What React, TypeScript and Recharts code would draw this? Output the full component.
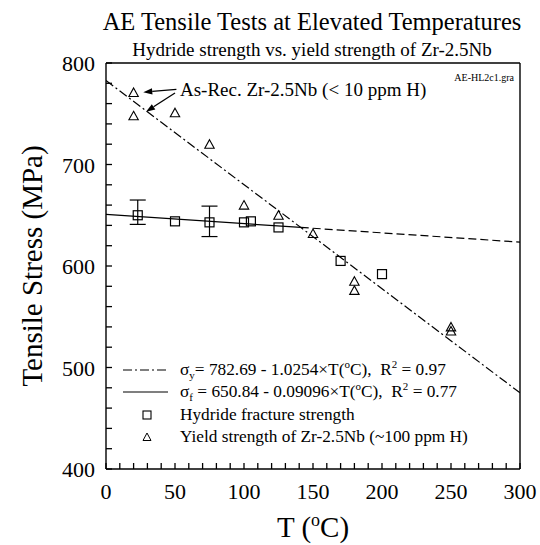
import React from 'react';
import { ComposedChart, Line, Scatter, XAxis, YAxis, ErrorBar, ReferenceLine, Legend } from 'recharts';

const FONT = "'Liberation Serif', 'Times New Roman', serif";

// Axis ticks
const xTicks = [0, 10, 20, 30, 40, 50, 60, 70, 80, 90, 100, 110, 120, 130, 140, 150, 160, 170, 180, 190, 200, 210, 220, 230, 240, 250, 260, 270, 280, 290, 300];
const xMajor = [0, 50, 100, 150, 200, 250, 300];
const yTicks = [400, 420, 440, 460, 480, 500, 520, 540, 560, 580, 600, 620, 640, 660, 680, 700, 720, 740, 760, 780, 800];
const yMajor = [400, 500, 600, 700, 800];

// Hydride fracture strength (squares), err = [lower, upper]
const fractureStrength = [
  { x: 23, y: 650, err: [9, 15] },
  { x: 50, y: 644 },
  { x: 75, y: 643, err: [14, 16] },
  { x: 100, y: 643 },
  { x: 105, y: 644 },
  { x: 125, y: 638 },
  { x: 170, y: 605 },
  { x: 200, y: 592 },
];

// Yield strength of Zr-2.5Nb (triangles)
const yieldStrength = [
  { x: 20, y: 771 },
  { x: 20, y: 748 },
  { x: 50, y: 751 },
  { x: 75, y: 720 },
  { x: 100, y: 660 },
  { x: 125, y: 650 },
  { x: 150, y: 632 },
  { x: 180, y: 585 },
  { x: 180, y: 576 },
  { x: 250, y: 540 },
  { x: 250, y: 536 },
];

// Fit line end points
const yieldFit = [{ x: 0, y: 782.69 }, { x: 300, y: 475.07 }];
const fractureFitSolid = [{ x: 0, y: 650.84 }, { x: 141.1, y: 638.0 }];
const fractureFitDashed = [{ x: 141.1, y: 638.0 }, { x: 300, y: 623.55 }];

// Annotation arrows (from text to As-Rec. points)
const arrows = [
  [{ x: 51, y: 774 }, { x: 27, y: 771.3 }],
  [{ x: 50, y: 770.5 }, { x: 29, y: 752 }],
];

const TICK_SIZE = -6; // negative = ticks point into the plot
const TICK_W = 1.3;

// Tick labels (the axis draws the tick marks itself)
const BottomLabel = (p: any) => {
  const v = p.payload && p.payload.value;
  if (!xMajor.includes(v)) return <g />;
  return (
    <text x={Number(p.x)} y={Number(p.y) + 36} textAnchor="middle" fontFamily={FONT} fontSize={22} fill="#000" stroke="none">
      {v}
    </text>
  );
};
const LeftLabel = (p: any) => {
  const v = p.payload && p.payload.value;
  if (!yMajor.includes(v)) return <g />;
  return (
    <text x={Number(p.x) - 17} y={Number(p.y) + 8} textAnchor="end" fontFamily={FONT} fontSize={22} fill="#000" stroke="none">
      {v}
    </text>
  );
};

const SquareShape = (p: any) => (
  <rect x={p.cx - 4.5} y={p.cy - 4.5} width={9} height={9} fill="none" stroke="#000" strokeWidth={1.2} />
);
const TriangleShape = (p: any) => (
  <path
    d={`M${p.cx},${p.cy - 4.5} L${p.cx + 4.7},${p.cy + 4} L${p.cx - 4.7},${p.cy + 4} Z`}
    fill="none"
    stroke="#000"
    strokeWidth={1.1}
  />
);
const NoShape = () => <g />;

const ArrowShape = (p: any) => {
  const { x1, y1, x2, y2 } = p;
  const ang = Math.atan2(y2 - y1, x2 - x1);
  const L = 9;
  const W = 3.2;
  const bx = x2 - L * Math.cos(ang);
  const by = y2 - L * Math.sin(ang);
  const px = -Math.sin(ang) * W;
  const py = Math.cos(ang) * W;
  return (
    <g>
      <line x1={x1} y1={y1} x2={bx} y2={by} stroke="#000" strokeWidth={1.3} />
      <path d={`M${x2},${y2} L${bx + px},${by + py} L${bx - px},${by - py} Z`} fill="#000" />
    </g>
  );
};

const sup = { fontSize: 11, verticalAlign: 'super', lineHeight: 0 } as React.CSSProperties;
const sub = { fontSize: 11, verticalAlign: 'sub', lineHeight: 0 } as React.CSSProperties;

const LegendContent = () => {
  const row: React.CSSProperties = { display: 'flex', alignItems: 'center', height: 22.3 };
  const sym = (content: React.ReactNode) => (
    <svg width={46} height={22} style={{ display: 'block', flex: 'none' }}>
      {content}
    </svg>
  );
  const txt: React.CSSProperties = { marginLeft: 11, whiteSpace: 'pre', fontFamily: FONT, fontSize: 17.3, color: '#000', lineHeight: '22px' };
  return (
    <div>
      <div style={row}>
        {sym(<line x1={0} x2={45} y1={11} y2={11} stroke="#000" strokeWidth={1.2} strokeDasharray="9 3 2 3" />)}
        <span style={txt}>
          σ<span style={sub}>y</span>= 782.69 - 1.0254×T(<span style={sup}>o</span>C),  R<span style={sup}>2</span> = 0.97
        </span>
      </div>
      <div style={row}>
        {sym(<line x1={0} x2={45} y1={11} y2={11} stroke="#000" strokeWidth={1.2} />)}
        <span style={txt}>
          σ<span style={sub}>f</span> = 650.84 - 0.09096×T(<span style={sup}>o</span>C),  R<span style={sup}>2</span> = 0.77
        </span>
      </div>
      <div style={row}>
        {sym(<rect x={20} y={7} width={8} height={8} fill="none" stroke="#000" strokeWidth={1.1} />)}
        <span style={txt}>Hydride fracture strength</span>
      </div>
      <div style={row}>
        {sym(<path d="M24,7 L28,14.5 L20,14.5 Z" fill="none" stroke="#000" strokeWidth={1} />)}
        <span style={txt}>Yield strength of Zr-2.5Nb (~100 ppm H)</span>
      </div>
    </div>
  );
};

const axisLine = { stroke: '#000', strokeWidth: 1.4 };
const tickLine = { stroke: '#000', strokeWidth: TICK_W };

export default function App() {
  return (
    <div style={{ position: 'absolute', left: 0, top: 0, width: 540, height: 545, background: '#fff' }}>
      <ComposedChart width={540} height={545} margin={{ top: 53, right: 10, bottom: 36, left: 46 }}>
        <XAxis
          xAxisId={0}
          dataKey="x"
          type="number"
          domain={[0, 300]}
          allowDataOverflow
          ticks={xTicks}
          interval={0}
          tickSize={TICK_SIZE}
          tickMargin={0}
          height={40}
          tick={BottomLabel}
          tickLine={tickLine}
          axisLine={axisLine}
        />
        <XAxis
          xAxisId="top"
          dataKey="x"
          orientation="top"
          type="number"
          domain={[0, 300]}
          allowDataOverflow
          ticks={xTicks}
          interval={0}
          tickSize={TICK_SIZE}
          height={10}
          tick={false}
          tickLine={tickLine}
          axisLine={axisLine}
        />
        <YAxis
          yAxisId={0}
          dataKey="y"
          type="number"
          domain={[400, 800]}
          allowDataOverflow
          ticks={yTicks}
          interval={0}
          tickSize={TICK_SIZE}
          tickMargin={0}
          width={60}
          tick={LeftLabel}
          tickLine={tickLine}
          axisLine={axisLine}
        />
        <YAxis
          yAxisId="right"
          dataKey="y"
          orientation="right"
          type="number"
          domain={[400, 800]}
          allowDataOverflow
          ticks={yTicks}
          interval={0}
          tickSize={TICK_SIZE}
          width={10}
          tick={false}
          tickLine={tickLine}
          axisLine={axisLine}
        />
        <Line
          xAxisId="top"
          yAxisId="right"
          data={yieldFit}
          dataKey="y"
          stroke="none"
          dot={false}
          isAnimationActive={false}
          legendType="none"
        />
        <Line
          data={yieldFit}
          dataKey="y"
          stroke="#000"
          strokeWidth={1.2}
          strokeDasharray="9 3 2 3"
          dot={false}
          isAnimationActive={false}
        />
        <Line
          data={fractureFitSolid}
          dataKey="y"
          stroke="#000"
          strokeWidth={1.3}
          dot={false}
          isAnimationActive={false}
        />
        <Line
          data={fractureFitDashed}
          dataKey="y"
          stroke="#000"
          strokeWidth={1.2}
          strokeDasharray="8 4"
          dot={false}
          isAnimationActive={false}
        />
        <Scatter data={fractureStrength.filter((d) => d.err)} dataKey="y" shape={<NoShape />} isAnimationActive={false}>
          <ErrorBar dataKey="err" direction="y" width={8} stroke="#000" strokeWidth={1.2} isAnimationActive={false} />
        </Scatter>
        <Scatter data={fractureStrength} dataKey="y" shape={<SquareShape />} isAnimationActive={false} />
        <Scatter data={yieldStrength} dataKey="y" shape={<TriangleShape />} isAnimationActive={false} />
        {arrows.map((seg, i) => (
          <ReferenceLine key={i} segment={seg} shape={<ArrowShape />} ifOverflow="visible" />
        ))}
        <Legend
          layout="horizontal"
          verticalAlign="middle"
          align="center"
          content={<LegendContent />}
          wrapperStyle={{ left: 123, top: 359, width: 380, height: 92, margin: 0 }}
        />
      </ComposedChart>
      <svg
        width={540}
        height={545}
        style={{ position: 'absolute', left: 0, top: 0, pointerEvents: 'none' }}
        fontFamily={FONT}
        fill="#000"
      >
        <text x={312} y={30} textAnchor="middle" fontSize={24.5}>AE Tensile Tests at Elevated Temperatures</text>
        <text x={312} y={56} textAnchor="middle" fontSize={19}>Hydride strength vs. yield strength of Zr-2.5Nb</text>
        <text transform="translate(42,266) rotate(-90)" textAnchor="middle" fontSize={29}>Tensile Stress (MPa)</text>
        <text x={313} y={537} textAnchor="middle" fontSize={29}>
          T (<tspan dy={-11} fontSize={18}>o</tspan><tspan dy={11}>C)</tspan>
        </text>
        <text x={180} y={96} fontSize={19}>As-Rec. Zr-2.5Nb (&lt; 10 ppm H)</text>
        <text x={514} y={81} textAnchor="end" fontSize={10}>AE-HL2c1.gra</text>
      </svg>
    </div>
  );
}
